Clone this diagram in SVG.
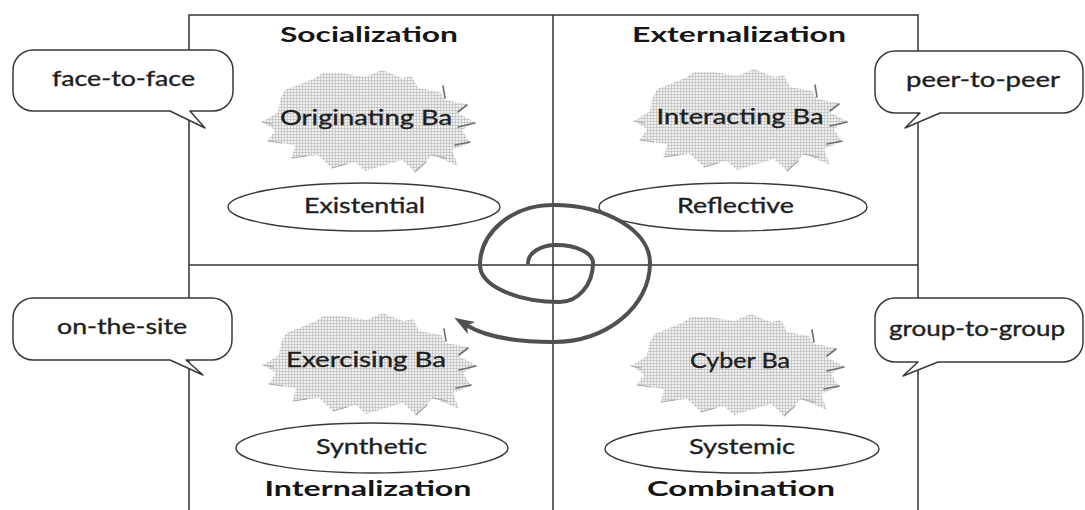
<svg xmlns="http://www.w3.org/2000/svg" xmlns:xlink="http://www.w3.org/1999/xlink" width="1085" height="510" viewBox="0 0 1085 510">
  <style>
    .frame { stroke: #333; stroke-width: 1.5; fill: none; }
    .bubble { fill: #fff; stroke: #3a3a3a; stroke-width: 1.5; stroke-linejoin: round; }
    .ell { fill: #fff; stroke: #3a3a3a; stroke-width: 1.4; }
    .lbl { font-family: Lato, "Open Sans", "Liberation Sans", sans-serif; font-size: 21px; fill: #1e1e1e; stroke: #1e1e1e; stroke-width: 0.35; text-anchor: middle; }
    .title { font-family: Lato, "Open Sans", "Liberation Sans", sans-serif; font-size: 21px; font-weight: bold; fill: #151515; text-anchor: middle; }
    .spiral { fill: none; stroke: #505050; stroke-width: 4; stroke-linecap: round; }
    .spike { stroke: #707070; stroke-width: 1.6; stroke-linecap: round; }
    .edge { stroke: #a8a8a8; stroke-width: 1.2; stroke-linecap: round; }
  </style>
  <defs>
    <pattern id="mesh" width="3" height="3" patternUnits="userSpaceOnUse">
      <rect width="3" height="3" fill="#f1f1f1"/>
      <path d="M0,0.5H3M0.5,0V3" stroke="#c6c6c6" stroke-width="0.9"/>
    </pattern>
    <g id="burst">
      <polygon fill="url(#mesh)" points="-106,0 -90,-10 -88,-22 -83,-32 -70,-37 -53,-44 -46,-49 -26,-49 -3,-45 14,-52 34,-44 44,-46 50,-34 72,-30 77,-22 99,-18 89,-9 107,0 94,8 102,21 84,28 90,44 64,33 47,50 34,38 14,44 -3,49 -13,40 -36,46 -50,33 -76,36 -73,23 -100,19 -93,8"/>
      <path class="spike" d="M75,-36L77,-24M90,-10L99,-17M90,5L107,1M87,23L102,20"/>
      <path class="edge" d="M-76,36L-62,34M-36,46L-22,42M47,50L58,40M-100,19L-86,21M-106,0L-96,2M64,33L78,36"/>
    </g>
    <marker id="arrow" viewBox="0 0 20 14" refX="4" refY="7" markerWidth="20" markerHeight="14" markerUnits="userSpaceOnUse" orient="auto">
      <path d="M0,0 L20,7 L0,14 L5,7 Z" fill="#505050"/>
    </marker>
  </defs>

  <rect width="1085" height="510" fill="#fff"/>

  <g id="grid" class="frame">
    <path d="M189,520 V15 H918 V520"/>
    <line x1="553" y1="15" x2="553" y2="520"/>
    <line x1="189" y1="265" x2="918" y2="265"/>
  </g>

  <g id="socialization">
    <text class="title" x="369" y="42" textLength="178" lengthAdjust="spacingAndGlyphs">Socialization</text>
  </g>
  <g id="externalization">
    <text class="title" x="739" y="42" textLength="214" lengthAdjust="spacingAndGlyphs">Externalization</text>
  </g>
  <g id="internalization">
    <text class="title" x="368" y="496" textLength="207" lengthAdjust="spacingAndGlyphs">Internalization</text>
  </g>
  <g id="combination">
    <text class="title" x="741" y="496" textLength="188" lengthAdjust="spacingAndGlyphs">Combination</text>
  </g>

  <g id="originating-ba">
    <use xlink:href="#burst" href="#burst" transform="translate(368,122)"/>
    <text class="lbl" x="366" y="125" textLength="172" lengthAdjust="spacingAndGlyphs">Originating Ba</text>
  </g>
  <g id="interacting-ba">
    <use xlink:href="#burst" href="#burst" transform="translate(740,121)"/>
    <text class="lbl" x="740" y="124" textLength="167" lengthAdjust="spacingAndGlyphs">Interacting Ba</text>
  </g>
  <g id="exercising-ba">
    <use xlink:href="#burst" href="#burst" transform="translate(369,365)"/>
    <text class="lbl" x="366" y="367" textLength="160" lengthAdjust="spacingAndGlyphs">Exercising Ba</text>
  </g>
  <g id="cyber-ba">
    <use xlink:href="#burst" href="#burst" transform="translate(737,366)"/>
    <text class="lbl" x="740" y="368" textLength="100" lengthAdjust="spacingAndGlyphs">Cyber Ba</text>
  </g>

  <g id="existential">
    <ellipse class="ell" cx="364" cy="207" rx="136" ry="24"/>
    <text class="lbl" x="364.5" y="213" textLength="121" lengthAdjust="spacingAndGlyphs">Existential</text>
  </g>
  <g id="reflective">
    <ellipse class="ell" cx="733" cy="207" rx="134" ry="24"/>
    <text class="lbl" x="735.5" y="213" textLength="117" lengthAdjust="spacingAndGlyphs">Reflective</text>
  </g>
  <g id="synthetic">
    <ellipse class="ell" cx="372" cy="448" rx="136" ry="25"/>
    <text class="lbl" x="371.5" y="454" textLength="111" lengthAdjust="spacingAndGlyphs">Synthetic</text>
  </g>
  <g id="systemic">
    <ellipse class="ell" cx="742" cy="449" rx="137" ry="24"/>
    <text class="lbl" x="742" y="454" textLength="106" lengthAdjust="spacingAndGlyphs">Systemic</text>
  </g>

  <g id="face-to-face">
    <path class="bubble" d="M33,50 H213 A20,20 0 0 1 233,70 V91 A20,20 0 0 1 213,111 H190 L205,128 L170,111 H33 A20,20 0 0 1 13,91 V70 A20,20 0 0 1 33,50 Z"/>
    <text class="lbl" x="123.5" y="86" textLength="143" lengthAdjust="spacingAndGlyphs">face-to-face</text>
  </g>
  <g id="on-the-site">
    <path class="bubble" d="M33,298 H212 A20,20 0 0 1 232,318 V340 A20,20 0 0 1 212,360 H186 L203,375 L170,360 H33 A20,20 0 0 1 13,340 V318 A20,20 0 0 1 33,298 Z"/>
    <text class="lbl" x="122" y="334" textLength="130" lengthAdjust="spacingAndGlyphs">on-the-site</text>
  </g>
  <g id="peer-to-peer">
    <path class="bubble" d="M895,51 H1063 A20,20 0 0 1 1083,71 V93 A20,20 0 0 1 1063,113 H940 L905,128 L920,113 H895 A20,20 0 0 1 875,93 V71 A20,20 0 0 1 895,51 Z"/>
    <text class="lbl" x="983" y="87" textLength="154" lengthAdjust="spacingAndGlyphs">peer-to-peer</text>
  </g>
  <g id="group-to-group">
    <path class="bubble" d="M895,298 H1063 A20,20 0 0 1 1083,318 V342 A20,20 0 0 1 1063,362 H938 L903,376 L918,362 H895 A20,20 0 0 1 875,342 V318 A20,20 0 0 1 895,298 Z"/>
    <text class="lbl" x="977" y="336" textLength="176" lengthAdjust="spacingAndGlyphs">group-to-group</text>
  </g>

  <g id="connectors">
    <path class="spiral" marker-end="url(#arrow)" d="M528,263 C528,253 540.5,245 556,245 C576.4,245 593,253 593,263 C593,284.5 578.2,302 560,302 C515.8,302 480,285.4 480,265 C480,231.9 512.7,205 553,205 C606.6,205 650,231 650,263 C650,306.6 606.6,342 553,342 C523,342 488,338 468,326"/>
  </g>
</svg>
